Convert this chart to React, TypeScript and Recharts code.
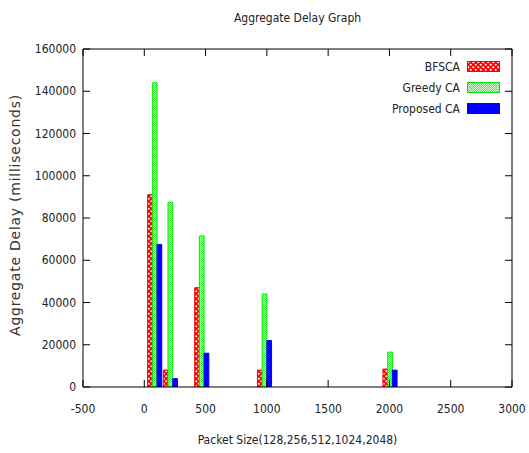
import React from 'react';
import { ComposedChart, Bar, XAxis, YAxis, Legend, Label } from 'recharts';

// ---- data ----
const packetSizes = [128, 256, 512, 1024, 2048];
const bfscaDelay = [91000, 8000, 47000, 8000, 8500];
const greedyDelay = [144000, 87500, 71500, 44000, 16500];
const proposedDelay = [67500, 4000, 16000, 22000, 8000];
const xTicks = [-500, 0, 500, 1000, 1500, 2000, 2500, 3000];
const yTicks = [0, 20000, 40000, 60000, 80000, 100000, 120000, 140000, 160000];
const seriesNames = ['BFSCA', 'Greedy CA', 'Proposed CA'];
const titleText = 'Aggregate Delay Graph';
const xLabelText = 'Packet Size(128,256,512,1024,2048)';
const yLabelText = 'Aggregate Delay (milliseconds)';

const data = packetSizes.map((size, i) => ({
  size,
  bfsca: bfscaDelay[i],
  greedy: greedyDelay[i],
  proposed: proposedDelay[i],
}));

// ---- style ----
const W = 529;
const H = 453;
const FONT = '"DejaVu Sans Condensed", "DejaVu Sans", sans-serif';
const FS = 12;
const TICK_LEN = 7;
const X_DOMAIN: [number, number] = [-500, 3000];
const GROUP_SHIFT = 45; // gnuplot-style box offset, in axis units
const RED = '#ff0000';
const GREEN = '#00e800';
const BLUE = '#0000ff';

// the bar groups are drawn slightly left of the packet size, like the gnuplot original
const barX = (d: any) => d.size - GROUP_SHIFT;

const PatternDefs = ({ prefix }: { prefix: string }) => (
  <defs>
    <pattern id={`${prefix}red`} width="5" height="5" patternUnits="userSpaceOnUse">
      <rect width="5" height="5" fill={RED} />
      <ellipse cx="1.25" cy="1.25" rx="1.1" ry="1" fill="#fff" />
      <ellipse cx="3.75" cy="3.75" rx="1.1" ry="1" fill="#fff" />
    </pattern>
    <pattern id={`${prefix}green`} width="2" height="2" patternUnits="userSpaceOnUse">
      <rect width="2" height="2" fill="#d8ffd8" />
      <rect x="0" y="0" width="1" height="1" fill="#30f030" />
      <rect x="1" y="1" width="1" height="1" fill="#30f030" />
    </pattern>
  </defs>
);

const BottomTick = (props: any) => {
  const { x, y, payload } = props;
  return (
    <g>
      <line x1={x} x2={x} y1={y} y2={y - TICK_LEN} stroke="#000" strokeWidth={1} />
      <text x={x} y={y + 22} textAnchor="middle" dominantBaseline="central" fontFamily={FONT} fontSize={FS} fill="#222">
        {payload.value}
      </text>
    </g>
  );
};

const TopTick = (props: any) => {
  const { x, y } = props;
  return <line x1={x} x2={x} y1={y} y2={y + TICK_LEN} stroke="#000" strokeWidth={1} />;
};

const LeftTick = (props: any) => {
  const { x, y, payload } = props;
  return (
    <g>
      <line x1={x} x2={x + TICK_LEN} y1={y} y2={y} stroke="#000" strokeWidth={1} />
      <text x={x - 7} y={y} textAnchor="end" dominantBaseline="central" fontFamily={FONT} fontSize={FS} fill="#222">
        {payload.value}
      </text>
    </g>
  );
};

const RightTick = (props: any) => {
  const { x, y } = props;
  return <line x1={x} x2={x - TICK_LEN} y1={y} y2={y} stroke="#000" strokeWidth={1} />;
};

const LegendContent = () => {
  const fills = ['url(#lg-red)', 'url(#lg-green)', BLUE];
  const strokes = [RED, GREEN, BLUE];
  return (
    <div style={{ fontFamily: FONT, fontSize: FS, color: '#222' }}>
      <svg width={0} height={0} style={{ position: 'absolute' }}>
        <PatternDefs prefix="lg-" />
      </svg>
      {seriesNames.map((name, i) => (
        <div key={name} style={{ display: 'flex', alignItems: 'center', justifyContent: 'flex-end', height: 21 }}>
          <span style={{ marginRight: 7, whiteSpace: 'nowrap' }}>{name}</span>
          <svg width={34} height={11} style={{ display: 'block' }}>
            <rect x={0.5} y={0.5} width={32} height={10} fill={fills[i]} stroke={strokes[i]} strokeWidth={1} />
          </svg>
        </div>
      ))}
    </div>
  );
};

export default function App() {
  return (
    <div style={{ position: 'absolute', left: 0, top: 0, width: W, height: H, background: '#fff' }}>
      <ComposedChart
        width={W}
        height={H}
        data={data}
        margin={{ top: 48, right: 16, bottom: 0, left: 0 }}
        barGap={0}
        barCategoryGap={0}
      >
        <PatternDefs prefix="bar-" />
        <XAxis
          xAxisId="bottom"
          dataKey={barX}
          type="number"
          domain={X_DOMAIN}
          ticks={xTicks}
          interval={0}
          allowDataOverflow
          height={66}
          tickSize={0}
          tickMargin={0}
          axisLine={{ stroke: '#000', strokeWidth: 1 }}
          tickLine={false}
          tick={<BottomTick />}
        >
          <Label value={xLabelText} position="insideBottom" offset={9} fontFamily={FONT} fontSize={FS} fill="#222" />
        </XAxis>
        <XAxis
          xAxisId="top"
          orientation="top"
          dataKey="size"
          type="number"
          domain={X_DOMAIN}
          ticks={xTicks}
          interval={0}
          allowDataOverflow
          height={1}
          tickSize={0}
          tickMargin={0}
          axisLine={{ stroke: '#000', strokeWidth: 1 }}
          tickLine={false}
          tick={<TopTick />}
        >
          <Label value={titleText} position="top" offset={26} fontFamily={FONT} fontSize={FS} fill="#222" />
        </XAxis>
        <YAxis
          yAxisId="left"
          type="number"
          domain={[0, 160000]}
          ticks={yTicks}
          interval={0}
          allowDataOverflow
          width={83}
          tickSize={0}
          tickMargin={0}
          axisLine={{ stroke: '#000', strokeWidth: 1 }}
          tickLine={false}
          tick={<LeftTick />}
        >
          <Label
            content={(p: any) => {
              const vb = p.viewBox || {};
              const cy = (vb.y || 0) + (vb.height || 0) / 2 - 3;
              return (
                <text
                  transform={`translate(15, ${cy}) rotate(-90)`}
                  textAnchor="middle"
                  dominantBaseline="central"
                  fontFamily='"DejaVu Sans", sans-serif'
                  fontSize={14}
                  letterSpacing={0.75}
                  fill="#333"
                >
                  {yLabelText}
                </text>
              );
            }}
          />
        </YAxis>
        <YAxis
          yAxisId="right"
          orientation="right"
          type="number"
          domain={[0, 160000]}
          ticks={yTicks}
          interval={0}
          allowDataOverflow
          width={1}
          tickSize={0}
          tickMargin={0}
          axisLine={{ stroke: '#000', strokeWidth: 1 }}
          tickLine={false}
          tick={<RightTick />}
        />
        <Legend
          layout="horizontal"
          verticalAlign="middle"
          align="center"
          wrapperStyle={{ top: 56, left: 350, width: 151, height: 63 }}
          content={<LegendContent />}
        />
        <Bar xAxisId="bottom" yAxisId="left" dataKey="bfsca" name={seriesNames[0]} barSize={6} fill="url(#bar-red)" stroke={RED} strokeWidth={1} isAnimationActive={false} />
        <Bar xAxisId="bottom" yAxisId="left" dataKey="greedy" name={seriesNames[1]} barSize={6} fill="url(#bar-green)" stroke={GREEN} strokeWidth={1} isAnimationActive={false} />
        <Bar xAxisId="bottom" yAxisId="left" dataKey="proposed" name={seriesNames[2]} barSize={6} fill={BLUE} stroke={BLUE} strokeWidth={1} isAnimationActive={false} />
      </ComposedChart>
    </div>
  );
}
